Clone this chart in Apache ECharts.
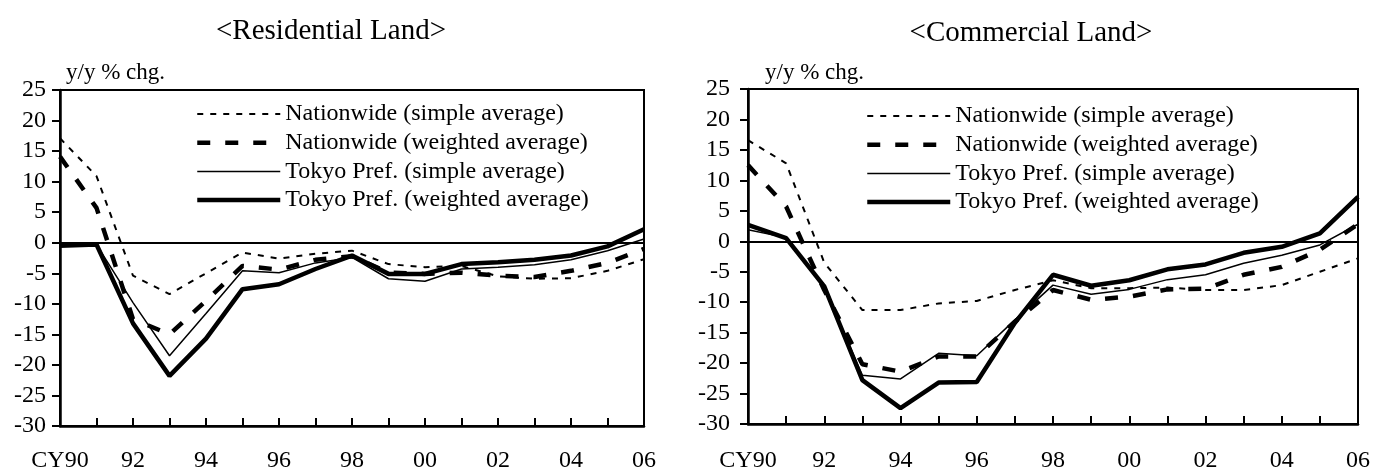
<!DOCTYPE html>
<html>
<head>
<meta charset="utf-8">
<script src="https://cdn.jsdelivr.net/npm/echarts@6/dist/echarts.min.js"></script>
<style>
html,body{margin:0;padding:0;background:#fff;}
#chart{width:1373px;height:473px;}
</style>
</head>
<body>
<div id="chart"></div>
<script>
// ---- data ----
const years = ['CY90','91','92','93','94','95','96','97','98','99','00','01','02','03','04','05','06'];
const seriesNames = ['Nationwide (simple average)','Nationwide (weighted average)','Tokyo Pref. (simple average)','Tokyo Pref. (weighted average)'];
const panelTitles = ['<Residential Land>','<Commercial Land>'];
const yUnit = 'y/y % chg.';

// Residential land
const resNatSimple    = [17.1, 10.9, -5.4, -8.4, -5.0, -1.6, -2.6, -1.8, -1.3, -3.5, -4.0, -3.8, -5.5, -5.9, -5.8, -4.6, -2.7];
const resNatWeighted  = [14.1, 5.7, -12.5, -15.0, -9.5, -3.8, -4.4, -2.8, -2.2, -4.9, -5.1, -4.9, -5.4, -5.6, -4.6, -3.3, -1.0];
const resTokyoSimple  = [-0.4, -0.3, -9.8, -18.5, -11.6, -4.6, -4.9, -3.3, -2.4, -5.9, -6.3, -4.3, -4.0, -3.6, -2.8, -1.3, 0.6];
const resTokyoWeighted= [-0.5, -0.3, -13.2, -21.8, -15.7, -7.6, -6.8, -4.3, -2.1, -5.1, -5.1, -3.5, -3.2, -2.8, -2.1, -0.6, 2.2];

// Commercial land
const comNatSimple    = [16.6, 12.8, -3.5, -11.3, -11.3, -10.2, -9.8, -8.0, -6.4, -7.7, -7.7, -7.6, -8.0, -8.0, -7.2, -5.0, -2.8];
const comNatWeighted  = [12.5, 5.7, -8.0, -20.2, -21.4, -18.9, -18.9, -13.2, -8.0, -9.6, -9.1, -7.9, -7.8, -5.5, -4.2, -1.4, 2.8];
const comTokyoSimple  = [1.9, 0.6, -7.6, -22.0, -22.6, -18.4, -18.8, -12.9, -7.2, -8.7, -7.9, -6.3, -5.5, -3.6, -2.3, -0.6, 2.8];
const comTokyoWeighted= [2.7, 0.5, -7.4, -22.8, -27.4, -23.2, -23.1, -13.4, -5.5, -7.3, -6.4, -4.6, -3.8, -1.9, -0.9, 1.3, 7.3];

// ---- chart ----
const FONT = "'Liberation Serif','Times New Roman',serif";
const styles = [
  {width: 2, type: [6, 7]},
  {width: 4.5, type: [13, 15]},
  {width: 1.5, type: 'solid'},
  {width: 4.5, type: 'solid'}
];
const panels = [
  {data: [resNatSimple, resNatWeighted, resTokyoSimple, resTokyoWeighted],
   grid: {left: 60, top: 90, width: 584, height: 338}, yMargin: 14, xMargin: 23,
   legend: {left: 195, top: 102}, title: {x: 331, y: 31}, unit: {x: 66, y: 73}},
  {data: [comNatSimple, comNatWeighted, comTokyoSimple, comTokyoWeighted],
   grid: {left: 748, top: 89, width: 612, height: 335}, yMargin: 18, xMargin: 25,
   legend: {left: 865, top: 104}, title: {x: 1031, y: 33}, unit: {x: 765, y: 73}}
];

const option = {
  animation: false,
  backgroundColor: '#fff',
  textStyle: {fontFamily: FONT, color: '#000'},
  grid: [], xAxis: [], yAxis: [], series: [], legend: [], graphic: []
};

panels.forEach((p, gi) => {
  option.grid.push(Object.assign({show: true, borderColor: '#000', borderWidth: 2, backgroundColor: 'transparent'}, p.grid));
  option.xAxis.push({
    type: 'category', gridIndex: gi, data: years, boundaryGap: false,
    axisLine: {onZero: false, lineStyle: {color: '#000', width: 2.5}},
    axisTick: {show: true, inside: true, length: 8, interval: 0, lineStyle: {color: '#000', width: 2}},
    axisLabel: {interval: 1, margin: p.xMargin, fontSize: 24, fontFamily: FONT, color: '#000'},
    splitLine: {show: false}
  });
  option.yAxis.push({
    type: 'value', gridIndex: gi, min: -30, max: 25, interval: 5,
    axisLine: {show: true, lineStyle: {color: '#000', width: 2.5}},
    axisTick: {show: true, inside: false, length: 8, lineStyle: {color: '#000', width: 2}},
    axisLabel: {margin: p.yMargin, fontSize: 24, fontFamily: FONT, color: '#000'},
    splitLine: {show: false}
  });
  // draw order: thick Tokyo first, dotted last
  [3, 2, 1, 0].forEach(si => {
    const s = {
      name: seriesNames[si], type: 'line', xAxisIndex: gi, yAxisIndex: gi,
      data: p.data[si], symbol: 'none', showSymbol: false,
      lineStyle: {color: '#000', width: styles[si].width, type: styles[si].type},
      itemStyle: {color: '#000'},
      z: 3
    };
    if (si === 3) {
      s.markLine = {
        silent: true, symbol: ['none', 'none'], label: {show: false},
        lineStyle: {color: '#000', width: 2, type: 'solid'},
        data: [{yAxis: 0}]
      };
    }
    option.series.push(s);
  });
  option.legend.push({
    orient: 'vertical', left: p.legend.left, top: p.legend.top, padding: 0,
    data: seriesNames.map((n, i) => ({
      name: n,
      itemStyle: {opacity: 0},
      lineStyle: {color: '#000', width: styles[i].width, type: styles[i].type, opacity: 1}
    })),
    selectedMode: false,
    itemWidth: 83, itemHeight: 14, itemGap: 4.7,
    textStyle: {fontSize: 24, fontFamily: FONT, color: '#000', lineHeight: 23}
  });
  option.graphic.push({
    type: 'text', x: p.title.x, y: p.title.y,
    style: {text: panelTitles[gi], font: '29px ' + FONT, fill: '#000', textAlign: 'center', textVerticalAlign: 'middle'}
  });
  option.graphic.push({
    type: 'text', x: p.unit.x, y: p.unit.y,
    style: {text: yUnit, font: '23px ' + FONT, fill: '#000', textAlign: 'left', textVerticalAlign: 'middle'}
  });
});

const chart = echarts.init(document.getElementById('chart'), null, {renderer: 'canvas'});
chart.setOption(option);
</script>
</body>
</html>
